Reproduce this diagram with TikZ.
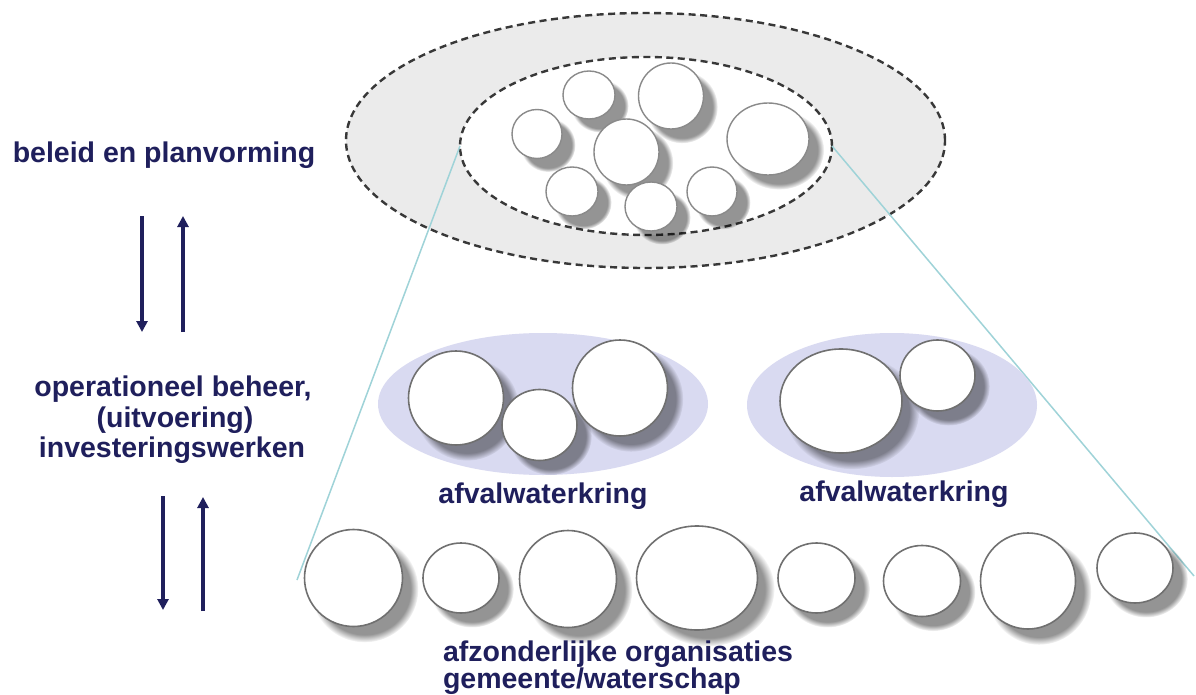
\documentclass[tikz,border=0pt]{standalone}
\usepackage{fontspec}
\setmainfont{Liberation Sans}
\usetikzlibrary{shapes.geometric,shadows,fadings,arrows.meta}
\definecolor{darknavy}{HTML}{1F1F5C}
\definecolor{ringgray}{HTML}{EBEBEB}
\definecolor{dashgray}{HTML}{383838}
\definecolor{lav}{HTML}{D9DAF1}
\definecolor{linkteal}{HTML}{9FD3D8}
\definecolor{edgedark}{HTML}{707070}
\definecolor{edgelight}{HTML}{8A8A8A}
\begin{document}
\begin{tikzpicture}[x=1pt,y=-1pt,
 lbl/.style={font=\bfseries\fontsize{28.5}{30}\selectfont, text=darknavy, inner sep=0pt, outer sep=0pt},
 dashell/.style={ellipse, draw=dashgray, line width=2.4pt, dash pattern=on 7pt off 4.5pt, inner sep=0pt, outer sep=0pt},
 grp/.style={ellipse, fill=lav, inner sep=0pt, outer sep=0pt},
 bub/.style={ellipse, draw=edgedark, line width=1.6pt, fill=white, inner sep=0pt, outer sep=0pt,
   circular drop shadow={shadow xshift=10pt, shadow yshift=-10pt, shadow scale=1.1, opacity=0.42, fill=black}},
 bubs/.style={bub, draw=edgelight, line width=1.4pt},
 link/.style={draw=linkteal, line width=1.5pt},
 flow/.style={draw=darknavy, line width=3.5pt, -{Triangle[width=11pt,length=11pt]}}
]
\fill[white] (0,0) rectangle (1196,695);
\useasboundingbox (0,0) rectangle (1196,695);

% top: policy level
\node[dashell, fill=ringgray, minimum width=599pt, minimum height=255pt] (outer) at (645.5,140.5) {};
\node[dashell, fill=white, minimum width=372pt, minimum height=178pt] (inner) at (646,146) {};

\coordinate (bl) at (297,580);
\coordinate (br) at (1194,576);
\draw[link] (inner.west) -- (bl);
\draw[link] (inner.east) -- (br);

\node[bubs, minimum width=50pt, minimum height=49pt] (t1) at (537,134) {};
\node[bubs, minimum width=52pt, minimum height=48pt] (t2) at (589,95) {};
\node[bubs, minimum width=65pt, minimum height=66pt] (t3) at (671,96) {};
\node[bubs, minimum width=65pt, minimum height=66pt] (t4) at (626.5,152) {};
\node[bubs, minimum width=82pt, minimum height=72pt] (t5) at (768,139) {};
\node[bubs, minimum width=52pt, minimum height=49pt] (t6) at (572,191.5) {};
\node[bubs, minimum width=52pt, minimum height=49pt] (t7) at (651,206.5) {};
\node[bubs, minimum width=50pt, minimum height=49pt] (t8) at (712,191.5) {};

% middle: afvalwaterkringen
\node[grp, minimum width=330pt, minimum height=142pt] (g1) at (543,404) {};
\node[grp, minimum width=290pt, minimum height=144pt] (g2) at (892,405) {};

\node[bub, minimum width=95pt, minimum height=94pt] (m1) at (456,398) {};
\node[bub, minimum width=75pt, minimum height=71pt] (m2) at (539.5,425) {};
\node[bub, minimum width=95pt, minimum height=96pt] (m3) at (620,388) {};
\node[bub, minimum width=122pt, minimum height=104pt] (m4) at (841,401) {};
\node[bub, minimum width=75pt, minimum height=71pt] (m5) at (937.5,375.5) {};

\node[lbl, anchor=base] (k1) at (543,503) {afvalwaterkring};
\node[lbl, anchor=base] (k2) at (904,501) {afvalwaterkring};

% bottom: individual organisations
\node[bub, minimum width=98pt, minimum height=97pt] (b1) at (353.5,578) {};
\node[bub, minimum width=76pt, minimum height=70pt] (b2) at (461,578) {};
\node[bub, minimum width=97pt, minimum height=97pt] (b3) at (568,579) {};
\node[bub, minimum width=121pt, minimum height=104pt] (b4) at (697,578) {};
\node[bub, minimum width=77pt, minimum height=70pt] (b5) at (816.5,578) {};
\node[bub, minimum width=77pt, minimum height=71pt] (b6) at (922,581) {};
\node[bub, minimum width=95pt, minimum height=96pt] (b7) at (1028,581) {};
\node[bub, minimum width=76pt, minimum height=70pt] (b8) at (1135,568) {};

\node[lbl, anchor=base west] (org1) at (443,661) {afzonderlijke organisaties};
\node[lbl, anchor=base west] (org2) at (443,688) {gemeente/waterschap};

% left: levels
\node[lbl, anchor=base] (beleid) at (164,163) {beleid en planvorming};
\node[lbl, anchor=base] (op1) at (173,396) {operationeel beheer,};
\node[lbl, anchor=base] (op2) at (175,427) {(uitvoering)};
\node[lbl, anchor=base] (op3) at (172,457) {investeringswerken};

\coordinate (d1s) at (142,216);
\coordinate (d1e) at (142,332);
\coordinate (u1s) at (183,332);
\coordinate (u1e) at (183,216);
\coordinate (d2s) at (163,496);
\coordinate (d2e) at (163,610);
\coordinate (u2s) at (203,611);
\coordinate (u2e) at (203,497);
\draw[flow] (d1s) -- (d1e);
\draw[flow] (u1s) -- (u1e);
\draw[flow] (d2s) -- (d2e);
\draw[flow] (u2s) -- (u2e);
\end{tikzpicture}
\end{document}
